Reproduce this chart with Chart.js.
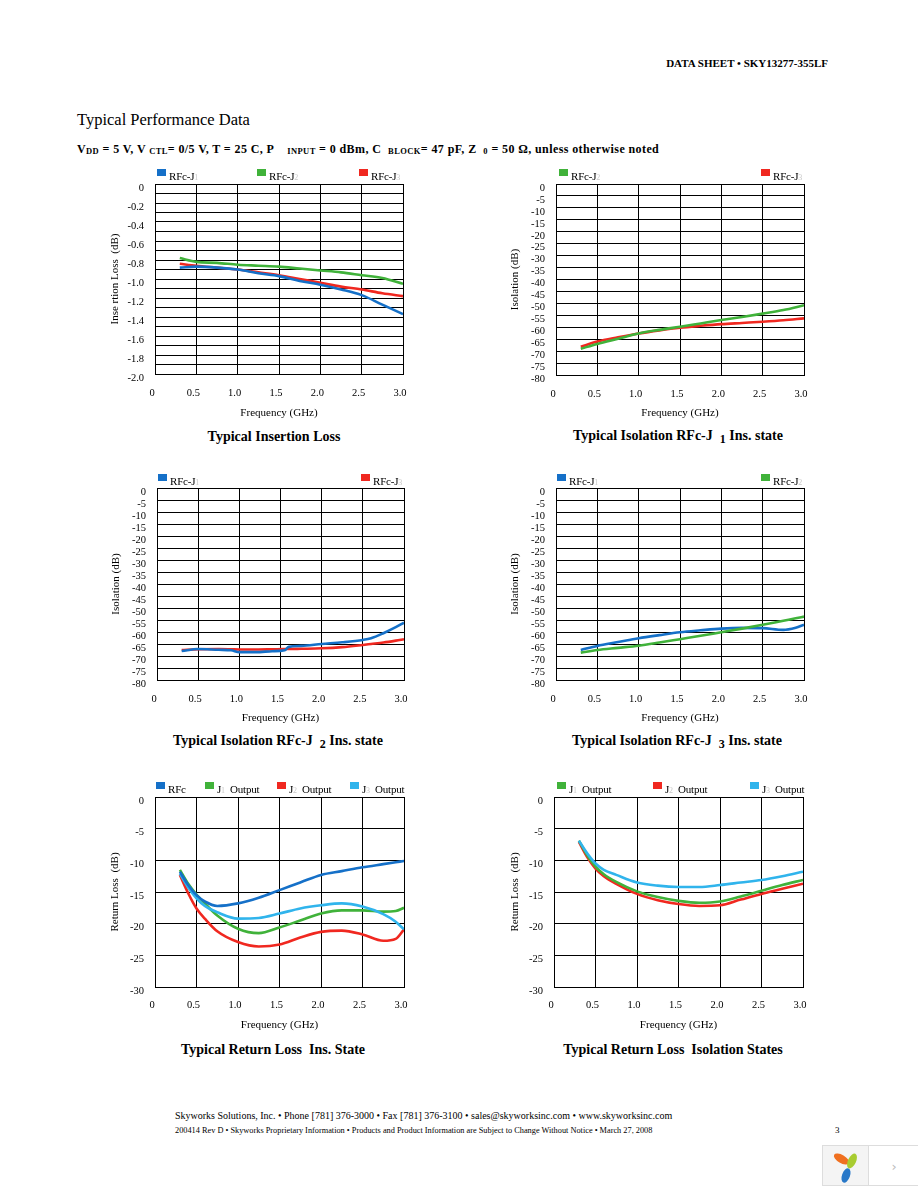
<!DOCTYPE html>
<html>
<head>
<meta charset="utf-8">
<title>SKY13277-355LF Typical Performance Data</title>
<script src="https://cdn.jsdelivr.net/npm/chart.js@4.4.0/dist/chart.umd.min.js"></script>
<style>
    body { margin: 0; background: #fff; }
    #page { position: relative; width: 918px; height: 1188px; overflow: hidden; font-family: "Liberation Serif", "Times New Roman", serif; color: #000; }
    .txt { position: absolute; white-space: nowrap; }
    .ctr { transform: translate(-50%, -50%); }
    .mid { transform: translateY(-50%); }
    canvas { position: absolute; }
    .lgbox { position: absolute; width: 9px; height: 7px; }
    .lgtxt { position: absolute; white-space: nowrap; font-size: 11px; line-height: 11px; letter-spacing: -0.2px; }
    .lgtxt span { color: #c8c8c8; font-size: 8px; }
    .ttl { font-weight: bold; font-size: 14px; }
    .ttl sub { font-size: 12px; vertical-align: -3px; }
    .cond sub { font-size: 8.5px; vertical-align: -1px; }
</style>
</head>
<body>
<div id="page">
    <div class="txt mid" style="right:90px; top:63px; font-weight:bold; font-size:11px;">DATA SHEET &bull; SKY13277-355LF</div>
    <div class="txt mid" style="left:77px; top:120px; font-size:16.5px;">Typical Performance Data</div>
    <div class="txt mid cond" style="left:77px; top:149px; font-weight:bold; font-size:12px; letter-spacing:0.4px;">V<sub>DD</sub> = 5 V, V <sub>CTL</sub>= 0/5 V, T = 25 C, P &nbsp;&nbsp;&nbsp;<sub>INPUT</sub> = 0 dBm, C &nbsp;<sub>BLOCK</sub>= 47 pF, Z &nbsp;<sub>0</sub> = 50 &Omega;, unless otherwise noted</div>

    <canvas id="c1"></canvas>
    <canvas id="c2"></canvas>
    <canvas id="c3"></canvas>
    <canvas id="c4"></canvas>
    <canvas id="c5"></canvas>
    <canvas id="c6"></canvas>

    <div class="txt ctr ttl" style="left:274px; top:437px;">Typical Insertion Loss</div>
    <div class="txt ctr ttl" style="left:678px; top:437px;">Typical Isolation RFc-J &nbsp;<sub>1</sub> Ins. state</div>
    <div class="txt ctr ttl" style="left:278px; top:742px;">Typical Isolation RFc-J &nbsp;<sub>2</sub> Ins. state</div>
    <div class="txt ctr ttl" style="left:677px; top:742px;">Typical Isolation RFc-J &nbsp;<sub>3</sub> Ins. state</div>
    <div class="txt ctr ttl" style="left:273px; top:1050px;">Typical Return Loss &nbsp;Ins. State</div>
    <div class="txt ctr ttl" style="left:673px; top:1050px;">Typical Return Loss &nbsp;Isolation States</div>

    <div class="txt mid" style="left:175px; top:1115px; font-size:10px;">Skyworks Solutions, Inc. &bull; Phone [781] 376-3000 &bull; Fax [781] 376-3100 &bull; sales@skyworksinc.com &bull; www.skyworksinc.com</div>
    <div class="txt mid" style="left:175px; top:1130px; font-size:8.3px;">200414 Rev D &bull; Skyworks Proprietary Information &bull; Products and Product Information are Subject to Change Without Notice &bull; March 27, 2008</div>
    <div class="txt mid" style="left:835px; top:1130px; font-size:9px;">3</div>

    <div style="position:absolute; left:822px; top:1145px; width:95px; height:39px; border:1px solid #ddd; background:#fff;">
        <div style="position:absolute; left:0; top:0; width:45px; height:39px; background:#f4f4f4; border-right:1px solid #ddd;"></div>
        <div style="position:absolute; left:10px; top:9px; width:17px; height:8px; border-radius:50%; background:#f07020; transform:rotate(30deg);"></div>
        <div style="position:absolute; left:25px; top:7px; width:8px; height:16px; border-radius:50%; background:#a8cc30; transform:rotate(25deg);"></div>
        <div style="position:absolute; left:19px; top:22px; width:8px; height:15px; border-radius:50%; background:#2878c8; transform:rotate(20deg);"></div>
        <div class="txt ctr" style="left:71px; top:20px; font-family:'DejaVu Sans'; font-size:13px; color:#bbb;">&rsaquo;</div>
    </div>
</div>

<script>
// ---- data ----
const freqTicks = [0, 0.5, 1.0, 1.5, 2.0, 2.5, 3.0];
const ilTicks = [0, -0.1, -0.2, -0.3, -0.4, -0.5, -0.6, -0.7, -0.8, -0.9, -1.0, -1.1, -1.2, -1.3, -1.4, -1.5, -1.6, -1.7, -1.8, -1.9, -2.0];
const isoTicks = [0, -5, -10, -15, -20, -25, -30, -35, -40, -45, -50, -55, -60, -65, -70, -75, -80];
const rlTicks = [0, -5, -10, -15, -20, -25, -30];

// Insertion loss
const freqIL = [0.3, 0.5, 0.75, 1.0, 1.25, 1.5, 1.75, 2.0, 2.25, 2.5, 2.75, 3.0];
const ilJ1 = [-0.88, -0.87, -0.88, -0.90, -0.94, -0.97, -1.02, -1.06, -1.11, -1.17, -1.27, -1.37];
const ilJ2 = [-0.78, -0.82, -0.83, -0.85, -0.86, -0.87, -0.89, -0.91, -0.93, -0.96, -0.99, -1.05];
const ilJ3 = [-0.84, -0.86, -0.88, -0.90, -0.93, -0.96, -1.00, -1.04, -1.08, -1.11, -1.15, -1.18];

// Isolation, RFc-J1 ins. state
const freqIso1 = [0.3, 0.5, 0.75, 1.0, 1.25, 1.5, 1.75, 2.0, 2.25, 2.5, 2.75, 3.0];
const iso1J2 = [-69.0, -67.0, -64.8, -62.6, -61.1, -59.8, -58.4, -57.0, -55.7, -54.3, -52.8, -50.8];
const iso1J3 = [-68.2, -66.0, -64.2, -62.6, -61.3, -60.2, -59.4, -58.7, -58.2, -57.7, -57.1, -56.3];

// Isolation, RFc-J2 ins. state
const freqIso2 = [0.3, 0.5, 0.75, 0.9, 1.0, 1.2, 1.4, 1.55, 1.6, 1.75, 2.0, 2.25, 2.5, 2.6, 2.75, 2.9, 3.0];
const iso2J1 = [-67.9, -67.1, -67.4, -67.6, -68.4, -68.4, -68.0, -67.6, -66.2, -65.8, -65.0, -64.3, -63.3, -62.6, -60.5, -58.0, -56.1];
const iso2J3 = [-67.5, -67.2, -67.1, -67.2, -67.3, -67.3, -67.2, -67.1, -67.1, -67.0, -66.8, -66.3, -65.4, -65.0, -64.4, -63.6, -63.0];

// Isolation, RFc-J3 ins. state
const freqIso3 = [0.3, 0.5, 0.75, 1.0, 1.25, 1.5, 1.75, 2.0, 2.25, 2.5, 2.75, 2.9, 3.0];
const iso3J1 = [-67.5, -65.8, -64.2, -62.6, -61.3, -60.1, -59.3, -58.6, -58.3, -58.4, -59.1, -58.2, -57.0];
const iso3J2 = [-68.6, -67.5, -66.6, -65.7, -64.4, -63.0, -61.6, -60.1, -58.6, -57.0, -55.3, -54.3, -53.6];

// Return loss, ins. state
const freqRL = [0.3, 0.4, 0.5, 0.6, 0.75, 1.0, 1.25, 1.5, 1.75, 2.0, 2.25, 2.5, 2.75, 2.9, 3.0];
const rlRFc = [-11.8, -13.9, -15.5, -16.5, -17.2, -16.8, -15.9, -14.7, -13.5, -12.3, -11.7, -11.1, -10.6, -10.3, -10.1];
const rlJ1 = [-11.5, -13.7, -15.4, -16.8, -18.7, -20.8, -21.5, -20.6, -19.5, -18.4, -17.9, -17.9, -18.1, -18.0, -17.5];
const rlJ2 = [-12.3, -15.2, -17.6, -19.2, -21.2, -22.9, -23.6, -23.3, -22.2, -21.3, -21.1, -21.7, -22.7, -22.4, -20.9];
const rlJ3 = [-12.1, -14.3, -16.0, -17.2, -18.2, -19.2, -19.1, -18.4, -17.6, -17.1, -16.8, -17.3, -18.5, -19.7, -20.9];

// Return loss, isolation states
const freqRLIso = [0.3, 0.4, 0.5, 0.6, 0.75, 1.0, 1.25, 1.5, 1.75, 2.0, 2.25, 2.5, 2.75, 3.0];
const rlIsoJ1 = [-6.9, -9.2, -11.0, -12.2, -13.4, -14.9, -15.8, -16.4, -16.7, -16.5, -15.7, -14.8, -13.9, -13.1];
const rlIsoJ2 = [-7.1, -9.5, -11.3, -12.5, -13.7, -15.3, -16.3, -16.9, -17.2, -17.1, -16.2, -15.3, -14.5, -13.7];
const rlIsoJ3 = [-6.9, -8.9, -10.5, -11.5, -12.3, -13.5, -14.0, -14.2, -14.2, -13.9, -13.5, -13.1, -12.5, -11.8];

const BLUE = '#1570c8';
const GREEN = '#40b23a';
const RED = '#f02820';
const LBLUE = '#30b4ec';

const FONT = 'Liberation Serif';
const page = document.getElementById('page');

function pts(xs, ys) {
    return xs.map((x, i) => ({ x: x, y: ys[i] }));
}

function series(xs, ys, color) {
    return {
        data: pts(xs, ys),
        borderColor: color,
        borderWidth: 2.6,
        pointRadius: 0,
        cubicInterpolationMode: 'monotone',
        fill: false
    };
}

// legend: coloured box + "RFc-J" with a faint subscript
function addLegend(x, y, color, main, sub, tail) {
    const b = document.createElement('div');
    b.className = 'lgbox';
    b.style.left = x + 'px';
    b.style.top = y + 'px';
    b.style.background = color;
    page.appendChild(b);

    const t = document.createElement('div');
    t.className = 'lgtxt';
    t.style.left = (x + 12) + 'px';
    t.style.top = (y + 2) + 'px';
    t.innerHTML = main + (sub ? '<span>' + sub + '</span>' : '') + (tail || '');
    page.appendChild(t);
}

// box: plot rectangle + where the axis titles sit
function makeChart(id, box, yTicks, yTitle, yFmt, datasets) {
    const padTop = 20, padRight = 22;
    const left = box.yTitleX - 9;
    const top = box.plotT - padTop;
    const right = box.plotR + padRight;
    const bottom = box.xTitleY + 10;

    const cv = document.getElementById(id);
    cv.width = right - left;
    cv.height = bottom - top;
    cv.style.left = left + 'px';
    cv.style.top = top + 'px';

    new Chart(cv.getContext('2d'), {
        type: 'line',
        data: { datasets: datasets },
        options: {
            responsive: false,
            animation: false,
            devicePixelRatio: 1,
            layout: { padding: { left: 0, top: padTop, right: padRight, bottom: 0 } },
            plugins: { legend: { display: false }, tooltip: { enabled: false } },
            scales: {
                x: {
                    type: 'linear',
                    min: 0,
                    max: 3,
                    afterBuildTicks: s => { s.ticks = freqTicks.map(v => ({ value: v })); },
                    afterFit: s => { s.height = bottom - box.plotB; },
                    grid: { color: '#000', lineWidth: 1, drawTicks: false },
                    border: { color: '#000', width: 1 },
                    ticks: {
                        autoSkip: false,
                        maxRotation: 0,
                        padding: box.xPad || 13,
                        labelOffset: -3,
                        color: '#000',
                        font: { family: FONT, size: 10.5 },
                        callback: v => v === 0 ? '0' : v.toFixed(1)
                    },
                    title: {
                        display: true,
                        text: 'Frequency (GHz)',
                        color: '#000',
                        font: { family: FONT, size: 11 },
                        padding: { top: 0, bottom: bottom - box.xTitleY - 6.6 }
                    }
                },
                y: {
                    type: 'linear',
                    min: yTicks[yTicks.length - 1],
                    max: yTicks[0],
                    afterBuildTicks: s => { s.ticks = yTicks.map(v => ({ value: v })); },
                    afterFit: s => { s.width = box.plotL - left; },
                    grid: { color: '#000', lineWidth: 1, drawTicks: false },
                    border: { color: '#000', width: 1 },
                    ticks: {
                        autoSkip: false,
                        padding: 11,
                        labelOffset: 4,
                        color: '#000',
                        font: { family: FONT, size: 10.5 },
                        callback: yFmt
                    },
                    title: {
                        display: true,
                        text: yTitle,
                        color: '#000',
                        font: { family: FONT, size: 11 },
                        padding: { top: box.yTitleX - left - 6.6, bottom: 0 }
                    }
                }
            }
        }
    });
}

const intFmt = v => v === 0 ? '0' : String(v);
const ilFmt = v => {
    const k = Math.round(v * 10);
    if (k % 2 !== 0) return '';
    return k === 0 ? '0' : v.toFixed(1);
};

// 1. insertion loss
makeChart('c1', { plotL: 155, plotT: 184, plotR: 403, plotB: 374, yTitleX: 115, xTitleY: 413 },
    ilTicks, 'Inse rtion Loss  (dB)', ilFmt, [
        series(freqIL, ilJ2, GREEN),
        series(freqIL, ilJ1, BLUE),
        series(freqIL, ilJ3, RED)
    ]);
addLegend(157, 169, BLUE, 'RFc-J', '1');
addLegend(257, 169, GREEN, 'RFc-J', '2');
addLegend(359, 169, RED, 'RFc-J', '3');

// 2. isolation RFc-J1
makeChart('c2', { plotL: 556, plotT: 184, plotR: 804, plotB: 375, yTitleX: 515, xTitleY: 413 },
    isoTicks, 'Isolation (dB)', intFmt, [
        series(freqIso1, iso1J2, GREEN),
        series(freqIso1, iso1J3, RED)
    ]);
addLegend(559, 169, GREEN, 'RFc-J', '2');
addLegend(761, 169, RED, 'RFc-J', '3');

// 3. isolation RFc-J2
makeChart('c3', { plotL: 157, plotT: 488, plotR: 404, plotB: 680, yTitleX: 116, xTitleY: 718 },
    isoTicks, 'Isolation (dB)', intFmt, [
        series(freqIso2, iso2J1, BLUE),
        series(freqIso2, iso2J3, RED)
    ]);
addLegend(158, 474, BLUE, 'RFc-J', '1');
addLegend(361, 474, RED, 'RFc-J', '3');

// 4. isolation RFc-J3
makeChart('c4', { plotL: 556, plotT: 488, plotR: 804, plotB: 680, yTitleX: 515, xTitleY: 718 },
    isoTicks, 'Isolation (dB)', intFmt, [
        series(freqIso3, iso3J2, GREEN),
        series(freqIso3, iso3J1, BLUE)
    ]);
addLegend(557, 474, BLUE, 'RFc-J', '1');
addLegend(761, 474, GREEN, 'RFc-J', '2');

// 5. return loss, ins. state
makeChart('c5', { plotL: 155, plotT: 797, plotR: 404, plotB: 987, yTitleX: 115, xTitleY: 1025, xPad: 12 },
    rlTicks, 'Return Loss  (dB)', intFmt, [
        series(freqRL, rlRFc, BLUE),
        series(freqRL, rlJ3, LBLUE),
        series(freqRL, rlJ1, GREEN),
        series(freqRL, rlJ2, RED)
    ]);
addLegend(156, 782, BLUE, 'RFc', '');
addLegend(205, 782, GREEN, 'J', '1', '&nbsp;&nbsp;Output');
addLegend(277, 782, RED, 'J', '2', '&nbsp;&nbsp;Output');
addLegend(350, 782, LBLUE, 'J', '3', '&nbsp;&nbsp;Output');

// 6. return loss, isolation states
makeChart('c6', { plotL: 554, plotT: 797, plotR: 803, plotB: 987, yTitleX: 515, xTitleY: 1025, xPad: 12 },
    rlTicks, 'Return Loss  (dB)', intFmt, [
        series(freqRLIso, rlIsoJ3, LBLUE),
        series(freqRLIso, rlIsoJ1, GREEN),
        series(freqRLIso, rlIsoJ2, RED)
    ]);
addLegend(557, 782, GREEN, 'J', '1', '&nbsp;&nbsp;Output');
addLegend(653, 782, RED, 'J', '2', '&nbsp;&nbsp;Output');
addLegend(750, 782, LBLUE, 'J', '3', '&nbsp;&nbsp;Output');
</script>
</body>
</html>
